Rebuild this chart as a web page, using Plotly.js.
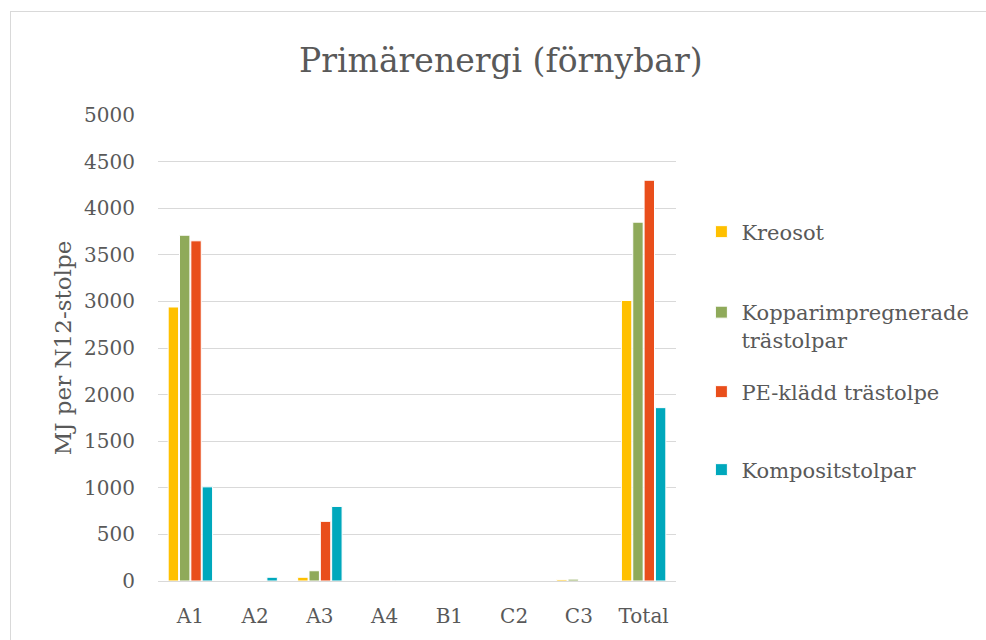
<!DOCTYPE html>
<html><head><meta charset="utf-8">
<script src="https://cdn.plot.ly/plotly-3.0.1.min.js"></script>
<style>
html,body{margin:0;padding:0;background:#fff;}
#frame{position:absolute;left:10px;top:11px;width:1000px;height:700px;border:1px solid #d9d9d9;}
#chart{position:absolute;left:0;top:0;width:986px;height:640px;}
</style></head>
<body>
<div id="frame"></div>
<div id="chart"></div>
<script>
const categories = ["A1","A2","A3","A4","B1","C2","C3","Total"];
const seriesNames = ["Kreosot","Kopparimpregnerade<br>trästolpar","PE-klädd trästolpe","Kompositstolpar"];
const kreosot  = [2940, 0, 40, 0, 0, 0, 15, 3010];
const koppar   = [3710, 0, 110, 0, 0, 0, 20, 3850];
const pe       = [3650, 0, 640, 5, 0, 0, 0, 4300];
const komposit = [1010, 40, 800, 0, 0, 0, 0, 1860];
const colors = ["#ffc000","#8faa5a","#e94e1b","#00a8bc"];
const values = [kreosot, koppar, pe, komposit];
const yTicks = [0,500,1000,1500,2000,2500,3000,3500,4000,4500,5000];

const font = "DejaVu Serif, serif";
const legendIds = ["legend","legend2","legend3","legend4"];
const traces = values.map((v,i)=>({
  type:"bar", x:categories, y:v, name:seriesNames[i], legend:legendIds[i],
  marker:{color:colors[i], line:{color:"#ffffff", width:1}},
  hoverinfo:"y"
}));

// legend entry centres in pixels (top of plot 115, bottom 581)
const legendCenters = [232, 326, 392, 470];
const plotTop = 115, plotBottom = 581;
const legFont = {family:font, size:21, color:"#595959"};
function mkLegend(cy){
  return {x:1.049, xanchor:"left", y:(plotBottom-cy)/(plotBottom-plotTop), yanchor:"middle",
    valign:"top", font:legFont, bgcolor:"rgba(0,0,0,0)"};
}

const layout = {
  width:986, height:640,
  paper_bgcolor:"rgba(0,0,0,0)", plot_bgcolor:"rgba(0,0,0,0)",
  margin:{l:158, r:307, t:115, b:59},
  barmode:"group", bargap:0.3, bargroupgap:0.08,
  title:{text:"Primärenergi (förnybar)", x:0.508, xanchor:"center", y:0.905, yanchor:"middle",
    font:{family:font, size:33, color:"#595959"}},
  xaxis:{type:"category", showline:true, linecolor:"#d9d9d9", linewidth:1, ticks:"",
    ticklabelstandoff:17,
    tickfont:{family:font, size:20, color:"#595959"}, showgrid:false},
  yaxis:{range:[0,5000], tickvals:yTicks, ticktext:yTicks.map(String), showgrid:true, gridcolor:"#d9d9d9", gridwidth:1,
    zeroline:false, ticks:"", ticklabelstandoff:22,
    tickfont:{family:font, size:20, color:"#595959"},
    title:{text:"MJ per N12-stolpe", standoff:6, font:{family:font, size:23, color:"#595959"}}},
  showlegend:true,
  legend:mkLegend(legendCenters[0]),
  legend2:mkLegend(legendCenters[1]),
  legend3:mkLegend(legendCenters[2]),
  legend4:mkLegend(legendCenters[3])
};
Plotly.newPlot("chart", traces, layout, {staticPlot:true});
</script>
</body></html>
